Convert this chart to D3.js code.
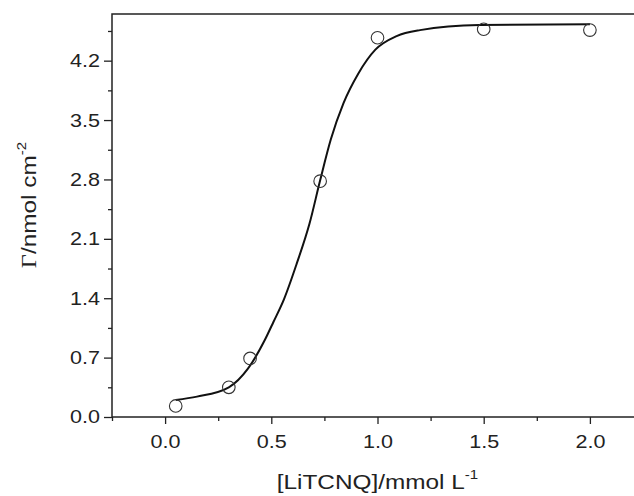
<!DOCTYPE html>
<html>
<head>
<meta charset="utf-8">
<script src="https://cdn.jsdelivr.net/npm/d3@7"></script>
<style>
  body { margin: 0; background: #fff; }
  svg { display: block; font-family: "Liberation Sans", Arial, sans-serif; }
</style>
</head>
<body>
<div id="chart"></div>
<script>
//***************** data *******************/
// measured points
var conc = [0.05, 0.30, 0.40, 0.73, 1.00, 1.50, 2.00];
var gamma = [0.13, 0.35, 0.69, 2.78, 4.47, 4.57, 4.56];

// fitted curve
var fitX = [0.05, 0.15, 0.30, 0.39, 0.47, 0.51, 0.56, 0.62, 0.68, 0.73, 0.78, 0.84, 0.91, 0.99, 1.09, 1.20, 1.48, 2.00];
var fitY = [0.20, 0.24, 0.35, 0.57, 0.91, 1.12, 1.39, 1.81, 2.28, 2.79, 3.27, 3.70, 4.05, 4.33, 4.49, 4.56, 4.62, 4.63];

var xTicks = [0.0, 0.5, 1.0, 1.5, 2.0];
var xMinor = [-0.25, 0.25, 0.75, 1.25, 1.75, 2.25];
var yTicks = [0.0, 0.7, 1.4, 2.1, 2.8, 3.5, 4.2];
var yMinor = [0.35, 1.05, 1.75, 2.45, 3.15, 3.85, 4.55];

//************* set dimensions ***************/
var W = 634, H = 496;
var margin = {left: 112, top: 14};
var width = 531, height = 403;
var stretch = 1.16; // glyphs in the picture are a bit wider than Liberation Sans

var svg = d3.select("#chart")
  .append("svg")
    .attr("width", W)
    .attr("height", H);

var g = svg.append("g")
    .attr("transform", "translate(" + margin.left + "," + margin.top + ")");

//***************** scales *******************/
var x = d3.scaleLinear().domain([-0.25, 2.25]).range([0, width]);
var y = d3.scaleLinear().domain([0, 4.75]).range([height, 0]);

//***************** axes *******************/
g.append("g")
  .attr("class", "x-axis")
  .attr("transform", "translate(0," + height + ")")
  .call(d3.axisBottom(x).tickValues(xTicks).tickSize(7).tickPadding(11)
        .tickFormat(d3.format(".1f")));
g.append("g")
  .attr("transform", "translate(0," + height + ")")
  .call(d3.axisBottom(x).tickValues(xMinor).tickSize(4).tickFormat(""));

g.append("g")
  .attr("class", "y-axis")
  .call(d3.axisLeft(y).tickValues(yTicks).tickSize(8).tickPadding(4)
        .tickFormat(d3.format(".1f")));
g.append("g")
  .call(d3.axisLeft(y).tickValues(yMinor).tickSize(4).tickFormat(""));

g.selectAll(".domain").remove();
g.selectAll(".tick line").attr("stroke", "#222").attr("stroke-width", 1.3);
g.selectAll(".tick text")
  .attr("font-family", "Liberation Sans, Arial, sans-serif")
  .attr("font-size", "18.6px")
  .attr("fill", "#222")
  .each(function() {
    var t = d3.select(this);
    var tx = +t.attr("x") || 0;
    t.attr("transform", "translate(" + tx + ",0) scale(" + stretch + ",1)").attr("x", 0);
  });

// frame
g.append("rect")
  .attr("x", 0).attr("y", 0)
  .attr("width", width).attr("height", height)
  .attr("fill", "none")
  .attr("stroke", "#222")
  .attr("stroke-width", 1.5);

//***************** fit curve *******************/
var fit = fitX.map(function(d, i) { return [d, fitY[i]]; });
g.append("path")
  .datum(fit)
  .attr("fill", "none")
  .attr("stroke", "#111")
  .attr("stroke-width", 2)
  .attr("d", d3.line()
    .x(function(d) { return x(d[0]); })
    .y(function(d) { return y(d[1]); })
    .curve(d3.curveMonotoneX));

//***************** points *******************/
g.selectAll("circle.pt")
  .data(conc)
  .enter()
  .append("circle")
    .attr("class", "pt")
    .attr("cx", function(d) { return x(d); })
    .attr("cy", function(d, i) { return y(gamma[i]); })
    .attr("r", 6.3)
    .attr("fill", "none")
    .attr("stroke", "#333")
    .attr("stroke-width", 1.1);

//***************** labels *******************/
var xLabel = svg.append("text")
  .attr("transform", "translate(" + (margin.left + x(1.0)) + ",489) scale(" + stretch + ",1)")
  .attr("text-anchor", "middle")
  .attr("font-size", "21px")
  .attr("fill", "#222");
xLabel.append("tspan").text("[LiTCNQ]/mmol L");
xLabel.append("tspan").attr("dy", -10).attr("font-size", "13px").text("-1");

var yLabel = svg.append("text")
  .attr("transform", "translate(36,205) rotate(-90) scale(" + stretch + ",1)")
  .attr("text-anchor", "middle")
  .attr("font-size", "21px")
  .attr("fill", "#222");
yLabel.append("tspan").attr("font-family", "Liberation Serif, serif").text("\u0393");
yLabel.append("tspan").text("/nmol cm");
yLabel.append("tspan").attr("dy", -10).attr("font-size", "13px").text("-2");
</script>
</body>
</html>
